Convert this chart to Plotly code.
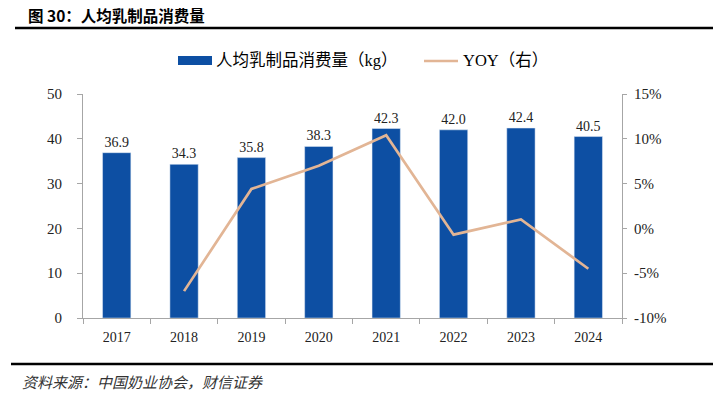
import plotly.graph_objects as go

years = ["2017", "2018", "2019", "2020", "2021", "2022", "2023", "2024"]
consumption_kg = [36.9, 34.3, 35.8, 38.3, 42.3, 42.0, 42.4, 40.5]
yoy_years = ["2018", "2019", "2020", "2021", "2022", "2023", "2024"]
yoy = [-0.070, 0.044, 0.070, 0.104, -0.007, 0.010, -0.045]
yoy_tick_values = [-0.10, -0.05, 0.0, 0.05, 0.10, 0.15]
yoy_tick_labels = ["-10%", "-5%", "0%", "5%", "10%", "15%"]

BAR = "#0D4FA3"
LINE = "#E2B595"
AX = "#A6A6A6"
SERIF = "Liberation Serif, Noto Sans CJK SC"
CJK = "Noto Sans CJK SC"

fig = go.Figure()
fig.add_trace(go.Bar(
    x=years, y=consumption_kg, marker_color=BAR, width=0.42,
    text=[f"{v:.1f}" for v in consumption_kg], textposition="outside",
    textfont=dict(family=SERIF, size=14, color="#222"), cliponaxis=False,
    name="人均乳制品消费量（kg）", showlegend=False,
))
fig.add_trace(go.Scatter(
    x=yoy_years, y=yoy, yaxis="y2", mode="lines",
    line=dict(color=LINE, width=2.7), name="YOY（右）", showlegend=False,
))

W, H = 721, 398
L, R, T, B = 83, 99, 94, 80


def pxp(x):
    return (x - L) / (W - L - R)


def pyp(y):
    return (H - B - y) / (H - T - B)


shapes = [
    dict(type="line", xref="paper", yref="paper", x0=pxp(15), x1=pxp(713),
         y0=pyp(28), y1=pyp(28), line=dict(color="black", width=2.5)),
    dict(type="line", xref="paper", yref="paper", x0=pxp(11), x1=pxp(713),
         y0=pyp(364), y1=pyp(364), line=dict(color="black", width=2.5)),
    # legend swatches
    dict(type="rect", xref="paper", yref="paper", x0=pxp(178), x1=pxp(212),
         y0=pyp(65), y1=pyp(56), fillcolor=BAR, line=dict(width=0)),
    dict(type="line", xref="paper", yref="paper", x0=pxp(424), x1=pxp(458),
         y0=pyp(61), y1=pyp(61), line=dict(color=LINE, width=2.7)),
]

annotations = [
    dict(text="<b>图 30：人均乳制品消费量</b>", xref="paper", yref="paper", x=pxp(26), y=pyp(15),
         xanchor="left", yanchor="middle", showarrow=False, font=dict(family=CJK, size=15.5, color="black")),
    dict(text="人均乳制品消费量（kg）", xref="paper", yref="paper", x=pxp(214), y=pyp(61),
         xanchor="left", yanchor="middle", showarrow=False, font=dict(family=SERIF, size=16.5, color="black")),
    dict(text="YOY（右）", xref="paper", yref="paper", x=pxp(461), y=pyp(61),
         xanchor="left", yanchor="middle", showarrow=False, font=dict(family=SERIF, size=16.5, color="black")),
    dict(text="<i>资料来源：中国奶业协会，财信证券</i>", xref="paper", yref="paper", x=pxp(20), y=pyp(381),
         xanchor="left", yanchor="middle", showarrow=False, font=dict(family=CJK, size=15, color="#333")),
]

fig.update_layout(
    width=W, height=H, margin=dict(l=L, r=R, t=T, b=B),
    paper_bgcolor="white", plot_bgcolor="white",
    shapes=shapes, annotations=annotations, showlegend=False,
    xaxis=dict(type="category", showline=True, linecolor=AX, linewidth=1.2,
               ticks="outside", tickson="boundaries", ticklen=5, tickcolor=AX,
               tickfont=dict(family=SERIF, size=14, color="#222"), ticklabelstandoff=6,
               showgrid=False, fixedrange=True),
    yaxis=dict(range=[0, 50], dtick=10, showline=True, linecolor=AX, linewidth=1.2,
               ticks="outside", ticklen=5, tickcolor=AX, showgrid=False, zeroline=False,
               tickfont=dict(family=SERIF, size=15, color="#222"), ticklabelstandoff=12),
    yaxis2=dict(range=[-0.10, 0.15], tickmode="array", tickvals=yoy_tick_values, ticktext=yoy_tick_labels,
                overlaying="y", side="right",
                showline=True, linecolor=AX, linewidth=1.2, ticks="outside", ticklen=4, tickcolor=AX,
                showgrid=False, zeroline=False,
                tickfont=dict(family=SERIF, size=15, color="#222"), ticklabelstandoff=4),
)

fig.write_html("out.html", config={"displayModeBar": False},
               post_script="document.body.style.margin='0';document.body.style.overflow='hidden';")
